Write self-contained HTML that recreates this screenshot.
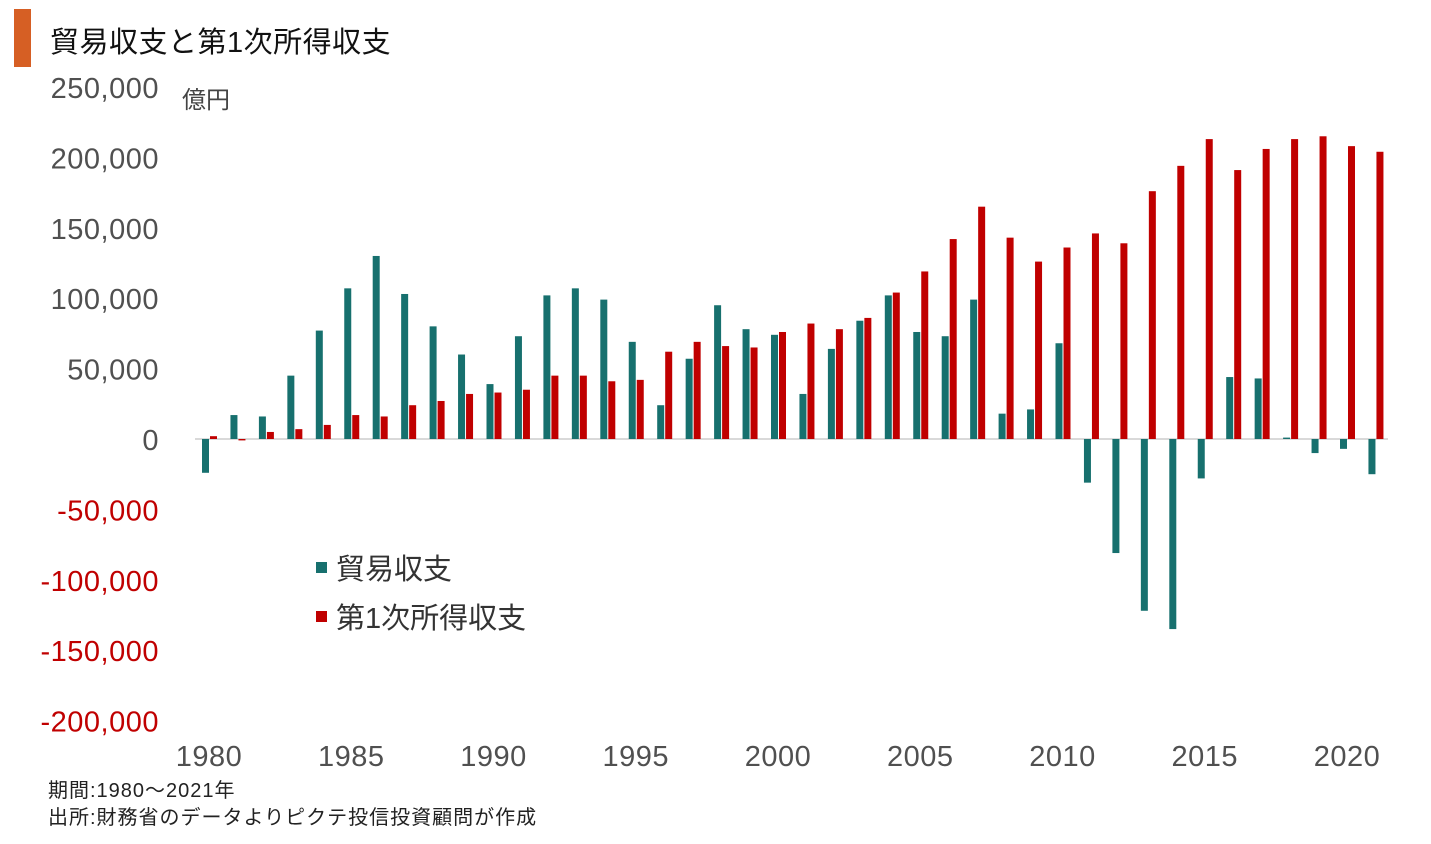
<!DOCTYPE html>
<html><head><meta charset="utf-8">
<style>
body{margin:0;background:#fff;width:1431px;height:839px;overflow:hidden;font-family:"Liberation Sans","Noto Sans CJK JP",sans-serif;}
svg text{font-family:"Liberation Sans","Noto Sans CJK JP",sans-serif;}
</style></head><body>
<svg id="chart" width="1431" height="839" xmlns="http://www.w3.org/2000/svg">
<rect x="14" y="9" width="17" height="58" fill="#d65f24"/>
<text x="50" y="52" font-size="29" fill="#111" letter-spacing="0.5">貿易収支と第1次所得収支</text>
<text x="182" y="108" font-size="24" fill="#444">億円</text>
<g id="yaxis"></g>
<g id="xaxis"></g>
<line x1="195" y1="439" x2="1388" y2="439" stroke="#d9d9d9" stroke-width="2"/>
<g id="bars"></g>
<g>
<rect x="316" y="562" width="11" height="11" fill="#17706e"/>
<text x="336" y="579" font-size="29" fill="#333">貿易収支</text>
<rect x="316" y="611" width="11" height="11" fill="#c00000"/>
<text x="336" y="628" font-size="29" fill="#333">第1次所得収支</text>
</g>
<text x="48" y="797" font-size="20" fill="#222" letter-spacing="1">期間:1980〜2021年</text>
<text x="48" y="824" font-size="20" fill="#222" letter-spacing="1">出所:財務省のデータよりピクテ投信投資顧問が作成</text>
</svg>
<script>
const years=[1980,1981,1982,1983,1984,1985,1986,1987,1988,1989,1990,1991,1992,1993,1994,1995,1996,1997,1998,1999,2000,2001,2002,2003,2004,2005,2006,2007,2008,2009,2010,2011,2012,2013,2014,2015,2016,2017,2018,2019,2020,2021];
const trade=[-24000,17000,16000,45000,77000,107000,130000,103000,80000,60000,39000,73000,102000,107000,99000,69000,24000,57000,95000,78000,74000,32000,64000,84000,102000,76000,73000,99000,18000,21000,68000,-31000,-81000,-122000,-135000,-28000,44000,43000,1000,-10000,-7000,-25000];
const income=[2000,-1000,5000,7000,10000,17000,16000,24000,27000,32000,33000,35000,45000,45000,41000,42000,62000,69000,66000,65000,76000,82000,78000,86000,104000,119000,142000,165000,143000,126000,136000,146000,139000,176000,194000,213000,191000,206000,213000,215000,208000,204000];
const yTicks=[250000,200000,150000,100000,50000,0,-50000,-100000,-150000,-200000];
const xTicks=[1980,1985,1990,1995,2000,2005,2010,2015,2020];
const NS="http://www.w3.org/2000/svg";
const y=v=>439-v*70.4/50000;
const x=yr=>209+(yr-1980)*28.45;
function mk(t,a,p){const e=document.createElementNS(NS,t);for(const k in a)e.setAttribute(k,a[k]);p.appendChild(e);return e;}
const ya=document.getElementById('yaxis'),xa=document.getElementById('xaxis'),bg=document.getElementById('bars');
yTicks.forEach(v=>{const t=mk('text',{x:159,y:y(v)+11,'font-size':29,'text-anchor':'end','letter-spacing':'0.5',fill:v<0?'#c00000':'#505050'},ya);


t.textContent=(v<0?'-':'')+Math.abs(v).toLocaleString('en-US');});
xTicks.forEach(v=>{const t=mk('text',{x:x(v),y:766,'font-size':29,'text-anchor':'middle','letter-spacing':'0.5',fill:'#505050'},xa);


t.textContent=v;});
years.forEach((yr,i)=>{
const cx=x(yr);
const a=trade[i],b=income[i];
const r1=mk('rect',{x:cx-7,y:Math.min(y(a),y(0)),width:7,height:Math.abs(y(a)-y(0)),fill:'#17706e'},bg);


const r2=mk('rect',{x:cx+1,y:Math.min(y(b),y(0)),width:7,height:Math.abs(y(b)-y(0)),fill:'#c00000'},bg);


});
</script>
</body></html>
